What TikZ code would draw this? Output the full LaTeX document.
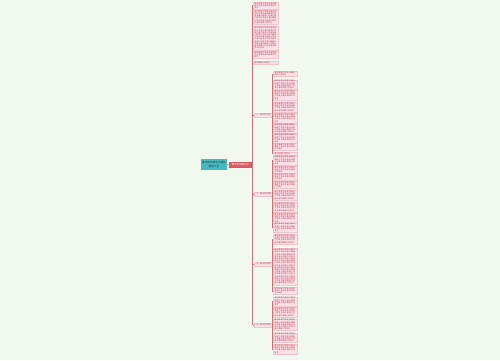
\documentclass[tikz,border=0pt]{standalone}
\usepackage{fontspec}
\newfontfamily\cjk{Noto Sans CJK SC}
\XeTeXlinebreaklocale "zh"
\XeTeXlinebreakskip=0pt plus 0.5pt
\definecolor{bgc}{HTML}{F1F9EF}
\definecolor{tealc}{HTML}{45BAC0}
\definecolor{redc}{HTML}{DA5A63}
\definecolor{linec}{HTML}{CF6E78}
\definecolor{leaff}{HTML}{FBE2E7}
\definecolor{leafd}{HTML}{F1C3CB}
\definecolor{leaft}{HTML}{B94A5C}
\newcommand\fz[1]{\foreach \i in {1,...,#1}{春风拂面万物复苏}}
\tikzset{
  leaf/.style={draw=leafd, line width=0.15pt, fill=leaff, text=leaft, anchor=west,
    inner xsep=0.03cm, inner ysep=0.01cm, text width=0.42cm, align=left,
    font=\cjk\fontsize{1.1}{1.25}\selectfont},
  leafa/.style={leaf, text width=0.44cm},
  lab/.style={draw=leafd, line width=0.15pt, fill=leaff, text=leaft, anchor=west,
    inner xsep=0.02cm, inner ysep=0.02cm, minimum width=0.38cm,
    font=\cjk\fontsize{1.2}{1.5}\selectfont},
  conn/.style={draw=linec, line width=0.35pt},
}
\begin{document}
\begin{tikzpicture}[x=0.02cm,y=-0.02cm]
\fill[bgc] (0,0) rectangle (500,360);
\useasboundingbox (0,0) rectangle (500,360);
% root and first level
\node[fill=tealc, text=black!80, minimum width=0.48cm, minimum height=0.22cm, inner sep=0.02cm,
  align=center, font=\cjk\fontsize{1.5}{1.9}\selectfont] (root) at (214,164.5) {春天的优美句子摘抄\\精选大全};
\node[fill=redc, text=white, minimum width=0.46cm, minimum height=0.12cm, inner sep=0.01cm,
  font=\cjk\fontsize{1.4}{1.6}\selectfont] (main) at (240.5,165) {春天的优美句子};
\draw[conn] (root) -- (main);
\coordinate (ttop) at (252.5,5);
\coordinate (tbot) at (252.5,325);
\draw[conn] (ttop) -- (tbot);
\draw[conn] (main.east) -- (252.5,165);
% group A (directly on trunk)
\node[leafa, minimum height=0.10cm] (a1) at (253,5.5) {\fz{3}};
\node[leafa, minimum height=0.28cm] (a2) at (253,17) {\fz{8}};
\node[leafa, minimum height=0.48cm] (a3) at (253,38) {\fz{13}};
\node[leafa, minimum height=0.12cm] (a4) at (253,55) {\fz{3}};
\node[leafa, minimum height=0.06cm] (a5) at (253,62.5) {\fz{1}};
% group B
\node[lab] (lb) at (254,115) {一、春天的句子};
\draw[conn] (252.5,115) -- (lb.west);
\foreach \n/\y/\h/\r in {b1/74/0.08/2, b2/84.5/0.18/5, b3/95/0.16/4, b4/107/0.20/5, b5/118/0.16/4,
  b6/128.5/0.18/5, b7/138.5/0.14/4, b8/147/0.12/3, b9/153.5/0.06/1}{
  \node[leaf, minimum height=\h cm] (\n) at (273,\y) {\fz{\r}};
  \draw[conn] (lb.east) -- (272,115) |- (\n.west);
}
% group C
\node[lab] (lc) at (254,194) {二、春天的段落};
\draw[conn] (252.5,194) -- (lc.west);
\foreach \n/\y/\h/\r in {c1/160.5/0.14/4, c2/169.5/0.10/3, c3/177/0.12/3, c4/185/0.12/3, c5/195/0.20/5,
  c6/207/0.20/5, c7/218/0.16/4, c8/227.5/0.14/4}{
  \node[leaf, minimum height=\h cm] (\n) at (273,\y) {\fz{\r}};
  \draw[conn] (lc.east) -- (272,194) |- (\n.west);
}
% group D
\node[lab] (ld) at (254,264) {三、春天的短句};
\draw[conn] (252.5,264) -- (ld.west);
\foreach \n/\y/\h/\r in {d1/239/0.20/5, d2/266.5/0.74/20, d3/291/0.12/3}{
  \node[leaf, minimum height=\h cm] (\n) at (273,\y) {\fz{\r}};
  \draw[conn] (ld.east) -- (272,264) |- (\n.west);
}
% group E
\node[lab] (le) at (254,325) {四、春天的诗句};
\draw[conn] (le.west) -- (252.5,325);
\foreach \n/\y/\h/\r in {e1/301.5/0.14/4, e2/312/0.20/5, e3/324.5/0.22/6, e4/337.5/0.18/5, e5/349/0.16/4}{
  \node[leaf, minimum height=\h cm] (\n) at (273,\y) {\fz{\r}};
  \draw[conn] (le.east) -- (272,325) |- (\n.west);
}
\end{tikzpicture}
\end{document}
